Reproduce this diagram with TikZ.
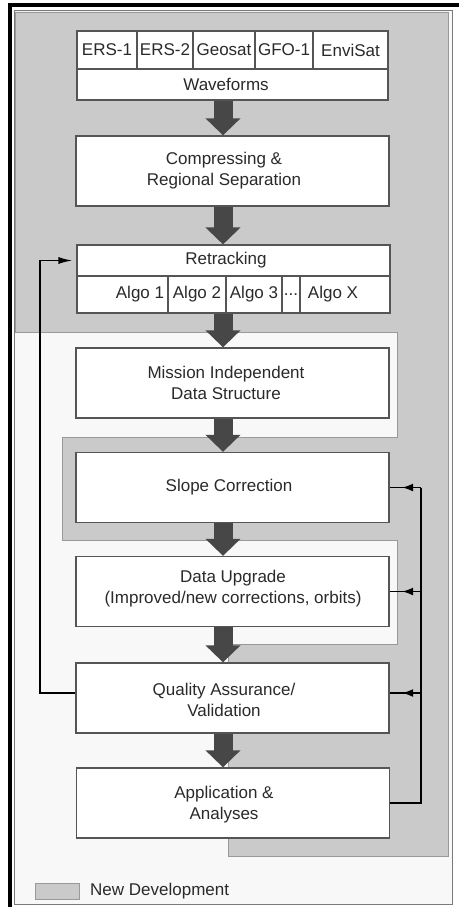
\documentclass[tikz,border=0pt]{standalone}
\usepackage{fontspec}
\setmainfont{Liberation Sans}
\usetikzlibrary{arrows.meta,decorations.markings}
\definecolor{newdev}{HTML}{CACACA}
\definecolor{devline}{HTML}{999999}
\definecolor{boxline}{HTML}{555555}
\definecolor{txt}{HTML}{2A2A2A}
\definecolor{fat}{HTML}{474747}
\definecolor{paper}{HTML}{F8F8F8}
\begin{document}
\begin{tikzpicture}[x=1pt,y=-1pt,
  box/.style={draw=boxline, line width=1.3pt, fill=white, inner sep=0pt, minimum width=313pt, minimum height=70pt},
  cell/.style={draw=boxline, line width=1.1pt, fill=white, inner sep=0pt, text=txt, font=\fontsize{17}{21}\selectfont},
  lbl/.style={text=txt, font=\fontsize{17}{21}\selectfont, align=center, inner sep=0pt},
  fatarr/.style={draw=fat, line width=19pt, -{Triangle[length=17pt,width=34pt]}},
  fb/.style={draw=black, line width=1.6pt},
  fbarr/.style={fb, -{Latex[length=14pt,width=7pt]}, shorten >=4pt},
  midarr/.style={postaction={decorate}, decoration={markings, mark=at position 0.6 with {\arrow{Latex[length=11pt,width=8pt]}}}}
]
\useasboundingbox (0,0) rectangle (459,907);
\fill[white] (0,0) rectangle (459,907);
\fill[paper] (14,11) rectangle (452,904);
% new development region
\filldraw[fill=newdev, draw=devline, line width=0.8pt]
  (15,12) -- (448,12) -- (448,856) -- (228,856) -- (228,644) -- (397,644) -- (397,540)
  -- (62,540) -- (62,437) -- (397,437) -- (397,332) -- (15,332) -- cycle;
% frame
\draw[devline!80!black, line width=1pt] (14,11) rectangle (452,904);
\draw[black, line width=4pt] (8,5) -- (459,5);
\draw[black, line width=4pt] (10,3) -- (10,907);

% sources
\node[cell, minimum width=60pt, minimum height=38pt] (ers1) at (107,50) {ERS-1};
\node[cell, minimum width=56pt, minimum height=38pt] (ers2) at (165,50) {ERS-2};
\node[cell, minimum width=62pt, minimum height=38pt] (geo) at (224,50) {Geosat};
\node[cell, minimum width=58pt, minimum height=38pt] (gfo) at (284,50) {GFO-1};
\node[cell, minimum width=75pt, minimum height=38pt] (env) at (350.5,50) {EnviSat};
\node[cell, minimum width=311pt, minimum height=31pt] (wav) at (232.5,84.5) {};
\node[lbl] (wavt) at (226,84.5) {Waveforms};

% compressing
\node[box] (comp) at (232.5,171) {};
\node[lbl] (compt) at (224,171) {Compressing \&\\Regional Separation};

% retracking
\node[cell, minimum width=313pt, minimum height=31pt] (retr) at (233.5,260.5) {};
\node[lbl] (retrt) at (226,260.5) {Retracking};
\node[cell, minimum width=91pt, minimum height=37pt] (a1) at (122.5,294.5) {};
\node[cell, minimum width=58pt, minimum height=37pt] (a2) at (197,294.5) {Algo 2};
\node[cell, minimum width=56pt, minimum height=37pt] (a3) at (254,294.5) {Algo 3};
\node[cell, minimum width=18pt, minimum height=37pt] (adots) at (291,294.5) {...};
\node[cell, minimum width=90pt, minimum height=37pt] (ax) at (345,294.5) {};
\node[lbl] (a1t) at (140,294.5) {Algo 1};
\node[lbl] (axt) at (333,294.5) {Algo X};

% mission
\node[box] (mis) at (232.5,383) {};
\node[lbl] (mist) at (226,383) {Mission Independent\\Data Structure};

% slope
\node[box] (slo) at (232.5,487.5) {};
\node[lbl] (slot) at (229,487.5) {Slope Correction};

% upgrade
\node[box] (upg) at (232.5,591.5) {};
\node[lbl] (upgt) at (233,589) {Data Upgrade\\(Improved/new corrections, orbits)};

% quality
\node[box] (qua) at (232.5,698) {};
\node[lbl] (quat) at (224,700) {Quality Assurance/\\Validation};

% application
\node[box] (app) at (233,803) {};
\node[lbl] (appt) at (224,805) {Application \&\\Analyses};

% fat arrows
\coordinate (fx) at (223,0);
\draw[fatarr] (wav.south -| fx) -- (comp.north -| fx);
\draw[fatarr] (comp.south -| fx) -- (retr.north -| fx);
\draw[fatarr] (a3.south -| fx) -- (mis.north -| fx);
\draw[fatarr] (mis.south -| fx) -- (slo.north -| fx);
\draw[fatarr] (slo.south -| fx) -- (upg.north -| fx);
\draw[fatarr] (upg.south -| fx) -- (qua.north -| fx);
\draw[fatarr] (qua.south -| fx) -- (app.north -| fx);

% left feedback loop
\coordinate (ql) at ([yshift=5pt]qua.west);
\coordinate (lx) at (40,0);
\draw[fbarr] (ql) -| (lx |- retr.west) -- (retr.west);

% right feedback loop
\coordinate (rx) at (421,0);
\coordinate (qr) at ([yshift=5pt]qua.east);
\draw[fb] (app.east) -| (rx |- slo.east);
\draw[fb, midarr] (rx |- slo.east) -- (slo.east);
\draw[fb, midarr] (rx |- upg.east) -- (upg.east);
\draw[fb, midarr] (rx |- qr) -- (qr);

% legend
\filldraw[fill=newdev, draw=devline, line width=0.8pt] (35,883) rectangle (79,899);
\node[lbl, anchor=west] (legt) at (90,891) {New Development};
\end{tikzpicture}
\end{document}
